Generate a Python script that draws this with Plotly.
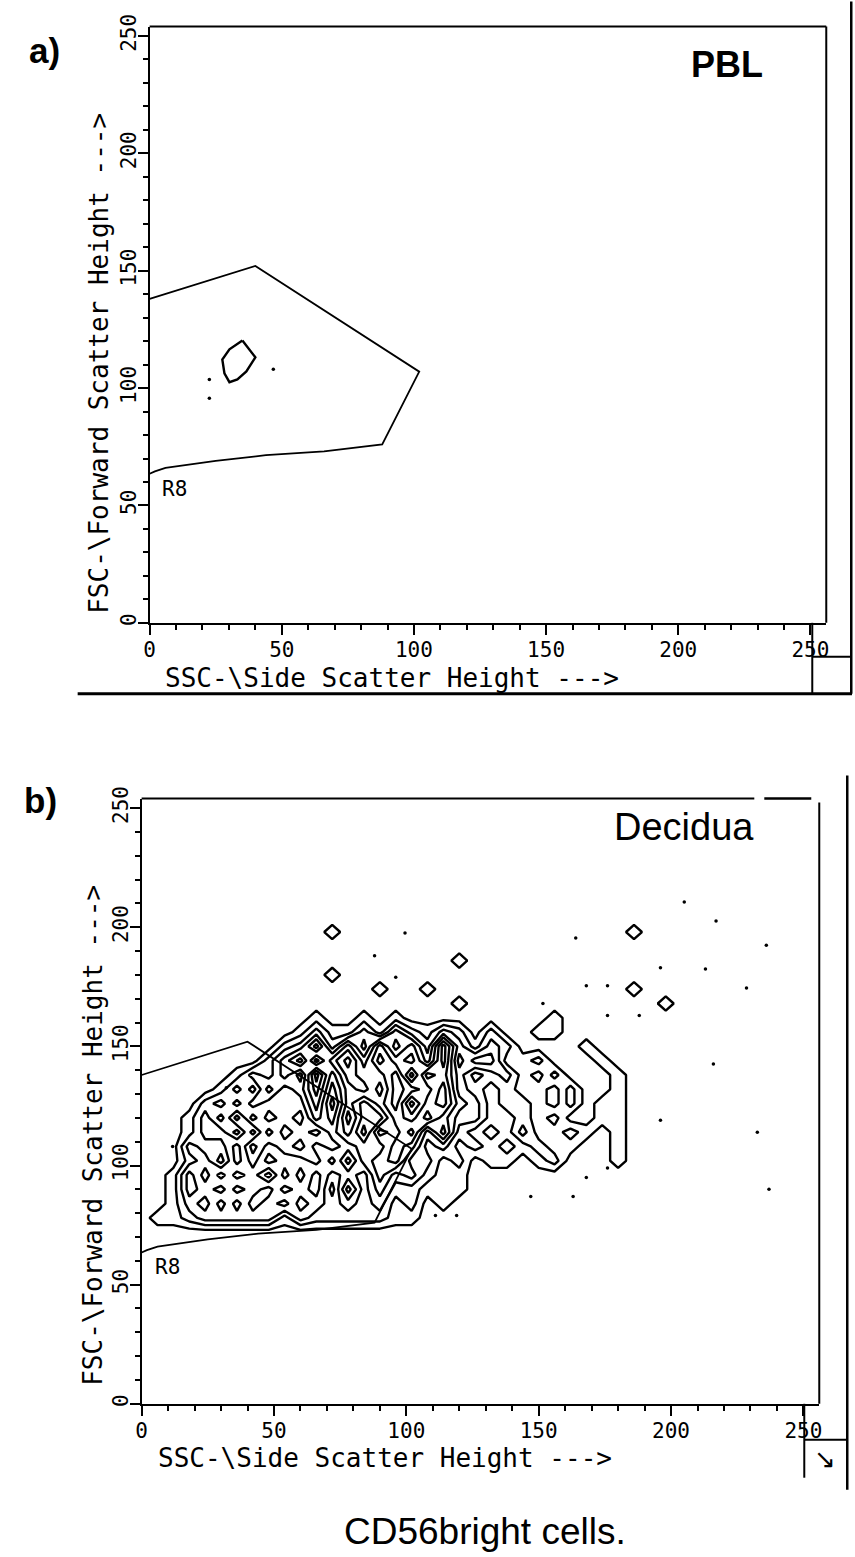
import plotly.graph_objects as go

W, H = 855, 1557

# ---------------- data ----------------
ssc_range = [0, 256]
fsc_range = [0, 254]

# R8 gate polygon (same gate in both panels)
gate_ssc = [0, 40, 102, 88, 66, 44, 25, 6, 2, 0]
gate_fsc = [138, 152, 107, 76, 73, 71.4, 69, 66, 64.5, 63.5]

# a) PBL : single contour loop + isolated events
pbl_contour_ssc = [35.1, 40.0, 36.6, 33.2, 30.2, 28.3, 27.5, 30.2, 35.1]
pbl_contour_fsc = [120.3, 113.1, 107.1, 103.7, 102.5, 106.3, 112.2, 116.5, 120.3]
pbl_dots_ssc = [22.6, 22.6, 46.8]
pbl_dots_fsc = [103.7, 95.7, 108.0]

# b) Decidua : event density grid (read off the picture), rows from FSC 210 down to 66
dec_grid_ssc = [0, 6, 12, 18, 24, 30, 36, 42, 48, 54, 60, 66, 72, 78, 84, 90, 96, 102,
                108, 114, 120, 126, 132, 138, 144, 150, 156, 162, 168, 174, 180, 186,
                192, 198, 204]
dec_grid_fsc = [210, 204, 198, 192, 186, 180, 174, 168, 162, 156, 150, 144, 138, 132,
                126, 120, 114, 108, 102, 96, 90, 84, 78, 72, 66]
dec_density_rows = [
    "00000 00000 00000 00000 00000 00000 00000",  # 210
    "00000 00000 00000 00000 00000 00000 00000",  # 204
    "00000 00000 00100 00000 00000 00000 01000",  # 198
    "00000 00000 00000 00000 00000 00000 00000",  # 192
    "00000 00000 00000 00000 10000 00000 00000",  # 186
    "00000 00000 00100 00000 00000 00000 00000",  # 180
    "00000 00000 00000 10010 00000 00000 01000",  # 174
    "00000 00000 00000 00000 10000 00000 00010",  # 168
    "00000 00000 01001 01000 00000 01000 00000",  # 162
    "00000 00000 13113 14213 20200 11000 00000",  # 156
    "00000 00002 36252 63527 31320 00010 00000",  # 150
    "00000 00024 62574 75637 24411 20001 00000",  # 144
    "00000 01324 27365 57376 31231 02000 10000",  # 138
    "00000 13142 36256 47657 32121 10200 10000",  # 132
    "00002 31322 25153 57367 43122 10201 10000",  # 126
    "00013 14132 14263 36575 33112 12001 10000",  # 120
    "00013 31413 21352 65736 21013 11210 10000",  # 114
    "00032 24132 13234 46523 12101 21100 10000",  # 108
    "00023 14243 32414 56331 20110 12000 10000",  # 102
    "00142 42314 24232 53421 10000 00000 00000",  # 96
    "00143 24342 34152 42211 10000 00000 00000",  # 90
    "00132 42434 23232 31201 00000 00000 00000",  # 84
    "01123 33331 32222 21100 00000 00000 00000",  # 78
    "00000 00000 00000 00000 00000 00000 00000",  # 72
    "00000 00000 00000 00000 00000 00000 00000",  # 66
]
dec_dots_ssc = [32, 11.7, 88, 99.5, 96, 205, 217, 164, 236, 196, 213, 168, 176, 228.5,
                151.6, 176, 188, 216, 196, 232.6, 176, 168, 147, 163, 111, 119, 237]
dec_dots_fsc = [132.6, 108, 188, 197.6, 179, 210.6, 202.6, 195.5, 192.5, 183, 182.5,
                175.5, 175.5, 174.5, 168, 163, 163, 142.6, 119, 114, 99, 95, 87, 87, 79,
                79, 90]

x_title = "SSC-\\Side Scatter Height --->"
y_title = "FSC-\\Forward Scatter Height --->"

# ---------------- figure ----------------
# page-pixel -> paper helpers (small correction for how the page is photographed)
SX, OX = 0.99, 6.3
SY, OY = 0.991, 11.4


def px(x):
    return min((x - OX) / SX, W) / W


def py(y):
    return 1 - ((y - OY) / SY) / H


z = []
for r in dec_density_rows:
    s = r.replace(" ", "")
    z.append([int(c) for c in s])
z = z[::-1]
grid_fsc = dec_grid_fsc[::-1]

fig = go.Figure()

line_style = dict(color="black", width=1.8)

# panel a
fig.add_trace(go.Scatter(x=gate_ssc, y=gate_fsc, mode="lines", line=line_style,
                         xaxis="x", yaxis="y", showlegend=False))
fig.add_trace(go.Scatter(x=pbl_contour_ssc, y=pbl_contour_fsc, mode="lines",
                         line=dict(color="black", width=2.4), xaxis="x", yaxis="y",
                         showlegend=False))
fig.add_trace(go.Scatter(x=pbl_dots_ssc, y=pbl_dots_fsc, mode="markers",
                         marker=dict(color="black", size=3.5), xaxis="x", yaxis="y",
                         showlegend=False))

# panel b
fig.add_trace(go.Scatter(x=gate_ssc, y=gate_fsc, mode="lines", line=line_style,
                         xaxis="x2", yaxis="y2", showlegend=False))
fig.add_trace(go.Contour(x=dec_grid_ssc, y=grid_fsc, z=z, xaxis="x2", yaxis="y2",
                         contours=dict(start=0.5, end=6.5, size=1, coloring="lines"),
                         colorscale=[[0, "black"], [1, "black"]], showscale=False,
                         line=dict(width=2.4, smoothing=0)))
fig.add_trace(go.Scatter(x=dec_dots_ssc, y=dec_dots_fsc, mode="markers",
                         marker=dict(color="black", size=3.5), xaxis="x2", yaxis="y2",
                         showlegend=False))

tick_font = dict(family="DejaVu Sans Mono", size=21, color="black")
minor = dict(tick0=0, dtick=10, ticks="outside", ticklen=5, tickwidth=2,
             tickcolor="black", showgrid=False)


def xaxis(domain, anchor):
    return dict(domain=domain, anchor=anchor, range=ssc_range, showgrid=False,
                zeroline=False, showline=True, linecolor="black", linewidth=2,
                ticks="outside", ticklen=10, tickwidth=2, tickcolor="black",
                tickmode="linear", tick0=0, dtick=50, tickfont=tick_font, minor=minor,
                ticklabelstandoff=-3, fixedrange=True)


def yaxis(domain, anchor):
    return dict(domain=domain, anchor=anchor, range=fsc_range, showgrid=False,
                zeroline=False, showline=True, linecolor="black", linewidth=2,
                ticks="outside", ticklen=10, tickwidth=2, tickcolor="black",
                tickmode="linear", tick0=0, dtick=50, tickfont=tick_font, minor=minor,
                tickangle=-90, ticklabelstandoff=-7, fixedrange=True)


fig.update_layout(
    width=W, height=H, margin=dict(l=0, r=0, t=0, b=0),
    paper_bgcolor="white", plot_bgcolor="white", showlegend=False,
    xaxis=xaxis([px(150), px(827)], "y"),
    yaxis=yaxis([py(622), py(25)], "x"),
    xaxis2=xaxis([px(142), px(820)], "y2"),
    yaxis2=yaxis([py(1404), py(798)], "x2"),
)

mono = "DejaVu Sans Mono"
sans = "Liberation Sans"
ann = [
    dict(text="<b>a)</b>", x=px(45), y=py(49), font=dict(family=sans, size=35, color="black")),
    dict(text="<b>b)</b>", x=px(41), y=py(800), font=dict(family=sans, size=35, color="black")),
    dict(text="<b>PBL</b>", x=px(690), y=py(63), xanchor="left",
         font=dict(family=sans, size=36, color="black")),
    dict(text="Decidua", x=px(613), y=py(826), xanchor="left",
         font=dict(family=sans, size=38, color="black")),
    dict(text="CD56bright cells.", x=px(342), y=py(1532), xanchor="left",
         font=dict(family=sans, size=37, color="black")),
    dict(text="R8", x=9.6, y=57, xref="x", yref="y",
         font=dict(family=mono, size=21, color="black")),
    dict(text="R8", x=9.8, y=57.5, xref="x2", yref="y2",
         font=dict(family=mono, size=21, color="black")),
    dict(text=x_title, x=px(393), y=py(677), font=dict(family=mono, size=26, color="black")),
    dict(text=x_title, x=px(386), y=py(1458), font=dict(family=mono, size=26, color="black")),
    dict(text=y_title, x=px(99), y=py(362), textangle=-90,
         font=dict(family=mono, size=26, color="black")),
    dict(text=y_title, x=px(93), y=py(1135), textangle=-90,
         font=dict(family=mono, size=26, color="black")),
    dict(text="↘", x=px(826), y=py(1459), font=dict(family="DejaVu Sans", size=26, color="black")),
]
for a in ann:
    a.setdefault("xref", "paper")
    a.setdefault("yref", "paper")
    a.setdefault("xanchor", "center")
    a.update(showarrow=False, yanchor="middle")
    fig.add_annotation(**a)


def seg(x0, y0, x1, y1, w=2, c="black"):
    fig.add_shape(type="line", xref="paper", yref="paper", x0=px(x0), y0=py(y0),
                  x1=px(x1), y1=py(y1), line=dict(color=c, width=w))


# panel a frame and page border pieces
seg(150, 25, 827, 25)
seg(827, 25, 827, 622)
seg(813, 656, 855, 656)
seg(813, 622, 813, 693)
seg(78, 693, 855, 693, 3)
seg(852, 0, 852, 693, 2.5)
# panel b frame and border pieces
seg(142, 798, 755, 798)
seg(765, 798, 812, 798, 2.5)
seg(820, 802, 820, 1404)
seg(805, 1404, 805, 1478)
seg(805, 1440, 848, 1440)
seg(848, 775, 848, 1490, 2.5)

fig.write_html("out.html")
